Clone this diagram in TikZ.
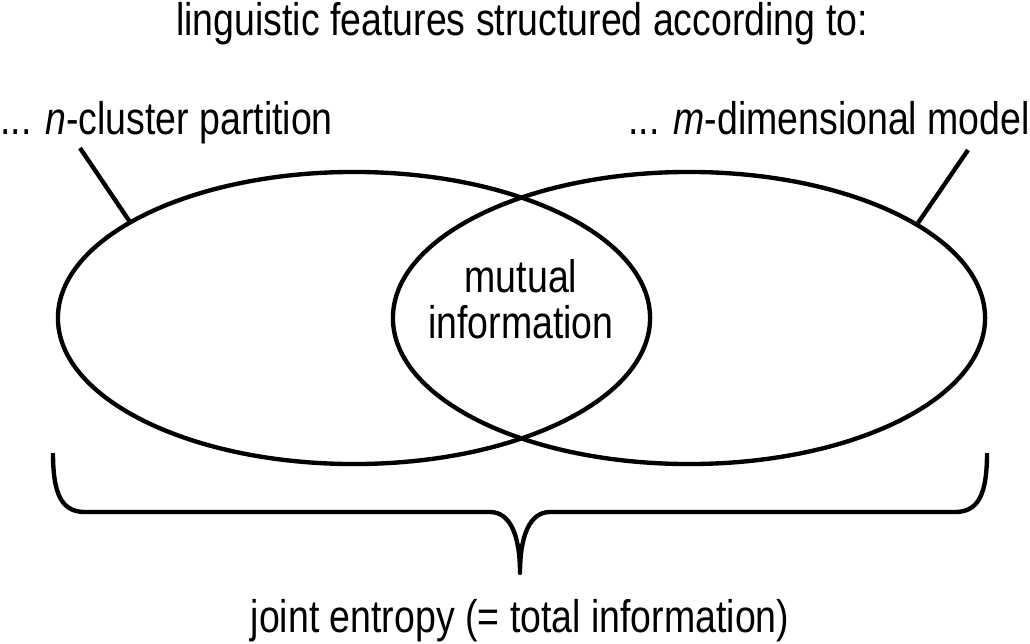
\documentclass[tikz,border=0pt]{standalone}
\usepackage{fontspec}
\setmainfont{Liberation Sans}[FakeStretch=0.82]
\usetikzlibrary{shapes.geometric}

\begin{document}
\begin{tikzpicture}[
    x=0.025cm, y=-0.025cm,
    label/.style={inner sep=0pt, font=\fontsize{32.5}{32.7}\selectfont},
    venn/.style={ellipse, draw, line width=3.1pt, minimum width=14.8cm, minimum height=7.3cm, inner sep=0pt},
    pointer/.style={line width=3.1pt},
    brace/.style={line width=3.1pt, line join=round}
]
    \useasboundingbox (0,0) rectangle (1030,643);

    % Titles
    \node[label, anchor=base] (title) at (522,36) {linguistic features structured according to:};
    \node[label, anchor=base west] (partition) at (0,135) {... \textit{n}-cluster partition};
    \node[label, anchor=base east] (model) at (1030,135) {... \textit{m}-dimensional model};

    % Sets
    \node[venn] (clusters) at (354,318) {};
    \node[venn] (dims) at (689,318) {};
    \node[label, align=center, anchor=base] (mutual) at (521,338) {mutual\\information};

    % Pointers
    \coordinate (ptop) at (80,148);
    \coordinate (pend) at (130,222);
    \coordinate (mtop) at (968,150);
    \coordinate (mend) at (918,223);
    \draw[pointer] (ptop) -- (pend);
    \draw[pointer] (mtop) -- (mend);

    % Brace
    \coordinate (bl) at (53,453);
    \coordinate (br) at (987,453);
    \coordinate (tip) at (520,573);
    \draw[brace] (bl) .. controls (53,495) and (62,512) .. (85,512) -- (490,512)
        .. controls (510,512) and (520,535) .. (tip)
        .. controls (520,535) and (530,512) .. (550,512) -- (955,512)
        .. controls (978,512) and (987,495) .. (br);
    \node[label, anchor=base] (joint) at (520,632) {joint entropy (= total information)};
\end{tikzpicture}
\end{document}
